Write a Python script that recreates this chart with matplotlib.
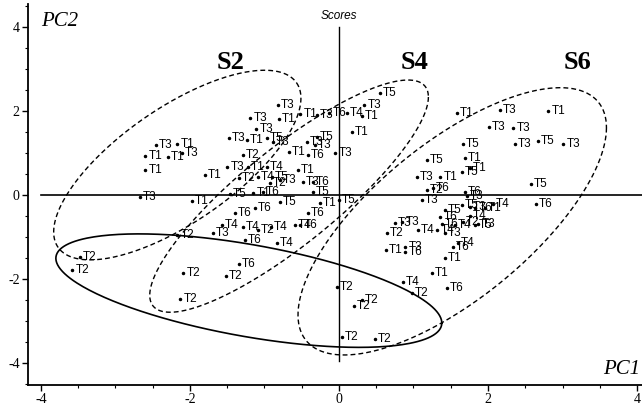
import numpy as np
import matplotlib
matplotlib.use("Agg")
import matplotlib.pyplot as plt
from matplotlib.ticker import MultipleLocator

plt.rcParams['axes.unicode_minus'] = False

# score points per treatment label (PC1, PC2)
t1_x = [-2.60, -2.30, -2.17, -2.60, -1.80, -1.97, -0.81, -0.52, 0.31, 0.17, -1.24, -0.67, -1.22,
        -0.55, -1.15, -0.26, 1.58, 2.81, 1.69, 1.76, 1.36, 1.96, 0.63, 1.42, 1.25]
t1_y = [0.94, 0.91, 1.22, 0.60, 0.48, -0.14, 1.82, 1.94, 1.89, 1.51, 1.32, 1.03, 0.67,
        0.60, 0.06, -0.18, 1.96, 2.01, 0.89, 0.65, 0.44, -0.30, -1.30, -1.49, -1.85]

t2_x = [-3.48, -3.58, -2.17, -2.09, -2.13, -1.52, -1.29, -1.34, -0.93, -1.09, -0.03, 0.20, 0.31,
        0.04, 0.48, 0.98, 1.18, 0.64, 1.66]
t2_y = [-1.47, -1.78, -0.95, -1.85, -2.47, -1.92, 0.96, 0.41, 0.29, -0.83, -2.18, -2.64, -2.49,
        -3.37, -3.42, -2.33, 0.13, -0.90, -0.63]

t3_x = [-2.67, -2.46, -2.11, -0.82, -1.19, -1.11, -1.48, -0.89, -0.30, 0.34, -0.05, -0.43, -0.32,
        -1.50, -0.79, -0.48, -1.69, 2.16, 2.01, 2.34, 2.36, 3.01, 1.05, 1.11, 0.75, 0.85, 1.42,
        0.89, 1.72, 1.76, 1.87]
t3_y = [-0.04, 1.20, 1.01, 2.15, 1.84, 1.58, 1.36, 1.27, 1.91, 2.15, 1.01, 1.27, 1.20,
        0.67, 0.36, 0.32, -0.90, 2.03, 1.63, 1.60, 1.22, 1.22, 0.44, -0.11, -0.66, -0.64, -0.90,
        -1.23, -0.02, -0.28, -0.68]

t4_x = [-0.97, -1.09, 0.11, -1.57, -1.29, -0.91, -0.59, -0.83, 2.07, 0.86, 1.06, 1.32, 1.56,
        1.76, 1.60]
t4_y = [0.67, 0.44, 1.96, -0.71, -0.75, -0.75, -0.71, -1.14, -0.21, -2.06, -0.83, -0.83, -0.71,
        -0.49, -1.14]

t5_x = [0.55, -0.97, -0.30, -0.90, -1.46, -0.35, -0.79, 0.00, 1.66, 2.67, 1.18, 1.65, 2.58,
        1.42, 1.65, 1.83]
t5_y = [2.44, 1.36, 1.38, 0.44, 0.03, 0.08, -0.16, -0.11, 1.22, 1.29, 0.84, 0.55, 0.27,
        -0.35, -0.23, -0.71]

t6_x = [-0.13, -0.42, -0.35, -1.02, -1.40, -1.13, -0.42, -0.52, -1.26, -1.34, 2.64, 1.26, 1.36,
        1.38, 0.89, 1.53, 1.45, 1.69, 1.83]
t6_y = [1.96, 0.96, 0.32, 0.08, -0.42, -0.30, -0.42, -0.71, -1.06, -1.64, -0.21, 0.17, -0.52,
        -0.68, -1.35, -1.23, -2.21, 0.07, -0.30]

groups = [('T1', t1_x, t1_y), ('T2', t2_x, t2_y), ('T3', t3_x, t3_y),
          ('T4', t4_x, t4_y), ('T5', t5_x, t5_y), ('T6', t6_x, t6_y)]

# confidence ellipses: centre and two conjugate half-axes (data units)
ell_names = ['S2', 'S4', 'S6', 'T2']
ell_center = [(-2.17, 0.72), (-0.67, -0.02), (1.52, -0.62), (-1.21, -2.27)]
ell_u = [(1.60, 1.96), (1.87, 2.36), (2.07, 2.23), (2.59, -0.77)]
ell_v = [(0.44, -1.12), (0.0, -1.44), (0.0, -2.27), (0.0, -1.11)]
ell_solid = [False, False, False, True]

# group captions
cap_text = ['S2', 'S4', 'S6']
cap_x = [-1.46, 1.01, 3.20]
cap_y = [3.17, 3.17, 3.17]

fig = plt.figure(figsize=(6.42, 4.09), dpi=100)
ax = fig.add_axes([28 / 642, 24 / 409, 1 - 28 / 642, 381 / 409])
ax.set_xlim(-4.174, 4.067)
ax.set_ylim(-4.517, 4.555)

for side in ['top', 'right']:
    ax.spines[side].set_visible(False)
for side in ['left', 'bottom']:
    ax.spines[side].set_linewidth(1.3)

ax.xaxis.set_major_locator(MultipleLocator(2))
ax.xaxis.set_minor_locator(MultipleLocator(0.5))
ax.yaxis.set_major_locator(MultipleLocator(2))
ax.yaxis.set_minor_locator(MultipleLocator(0.5))
ax.tick_params(which='major', direction='out', length=4, width=1, pad=2)
ax.tick_params(which='minor', direction='out', length=2.5, width=0.8)
for lab in ax.get_xticklabels() + ax.get_yticklabels():
    lab.set_fontfamily('Liberation Serif')
    lab.set_fontsize(10)

# zero lines
ax.plot([-4, 4.07], [0, 0], color='black', lw=1.2)
ax.plot([0, 0], [4, -3.95], color='black', lw=1.0)

t = np.linspace(0, 2 * np.pi, 300)
for c, u, v, solid in zip(ell_center, ell_u, ell_v, ell_solid):
    ex = c[0] + u[0] * np.cos(t) + v[0] * np.sin(t)
    ey = c[1] + u[1] * np.cos(t) + v[1] * np.sin(t)
    if solid:
        ax.plot(ex, ey, color='black', lw=1.2)
    else:
        ax.plot(ex, ey, color='black', lw=1.0, linestyle=(0, (3.5, 2.2)))

for name, xs, ys in groups:
    ax.plot(xs, ys, 'o', color='black', markersize=1.5)
    for x, y in zip(xs, ys):
        ax.annotate(name, (x, y), xytext=(2.2, 0), textcoords='offset points',
                    va='center', ha='left', fontsize=8.5, family='Liberation Sans')

for s, x, y in zip(cap_text, cap_x, cap_y):
    ax.text(x, y, s, ha='center', va='center', fontsize=19, fontweight='bold',
            family='Liberation Serif')

ax.text(0, 4.27, 'Scores', ha='center', va='center', fontsize=8.5, style='italic',
        family='Liberation Sans')
ax.text(-4.0, 4.13, 'PC2', ha='left', va='center', fontsize=15, style='italic',
        family='Liberation Serif')
ax.text(4.05, -4.14, 'PC1', ha='right', va='center', fontsize=15, style='italic',
        family='Liberation Serif')

fig.savefig('out.png', dpi=100)
plt.close(fig)
